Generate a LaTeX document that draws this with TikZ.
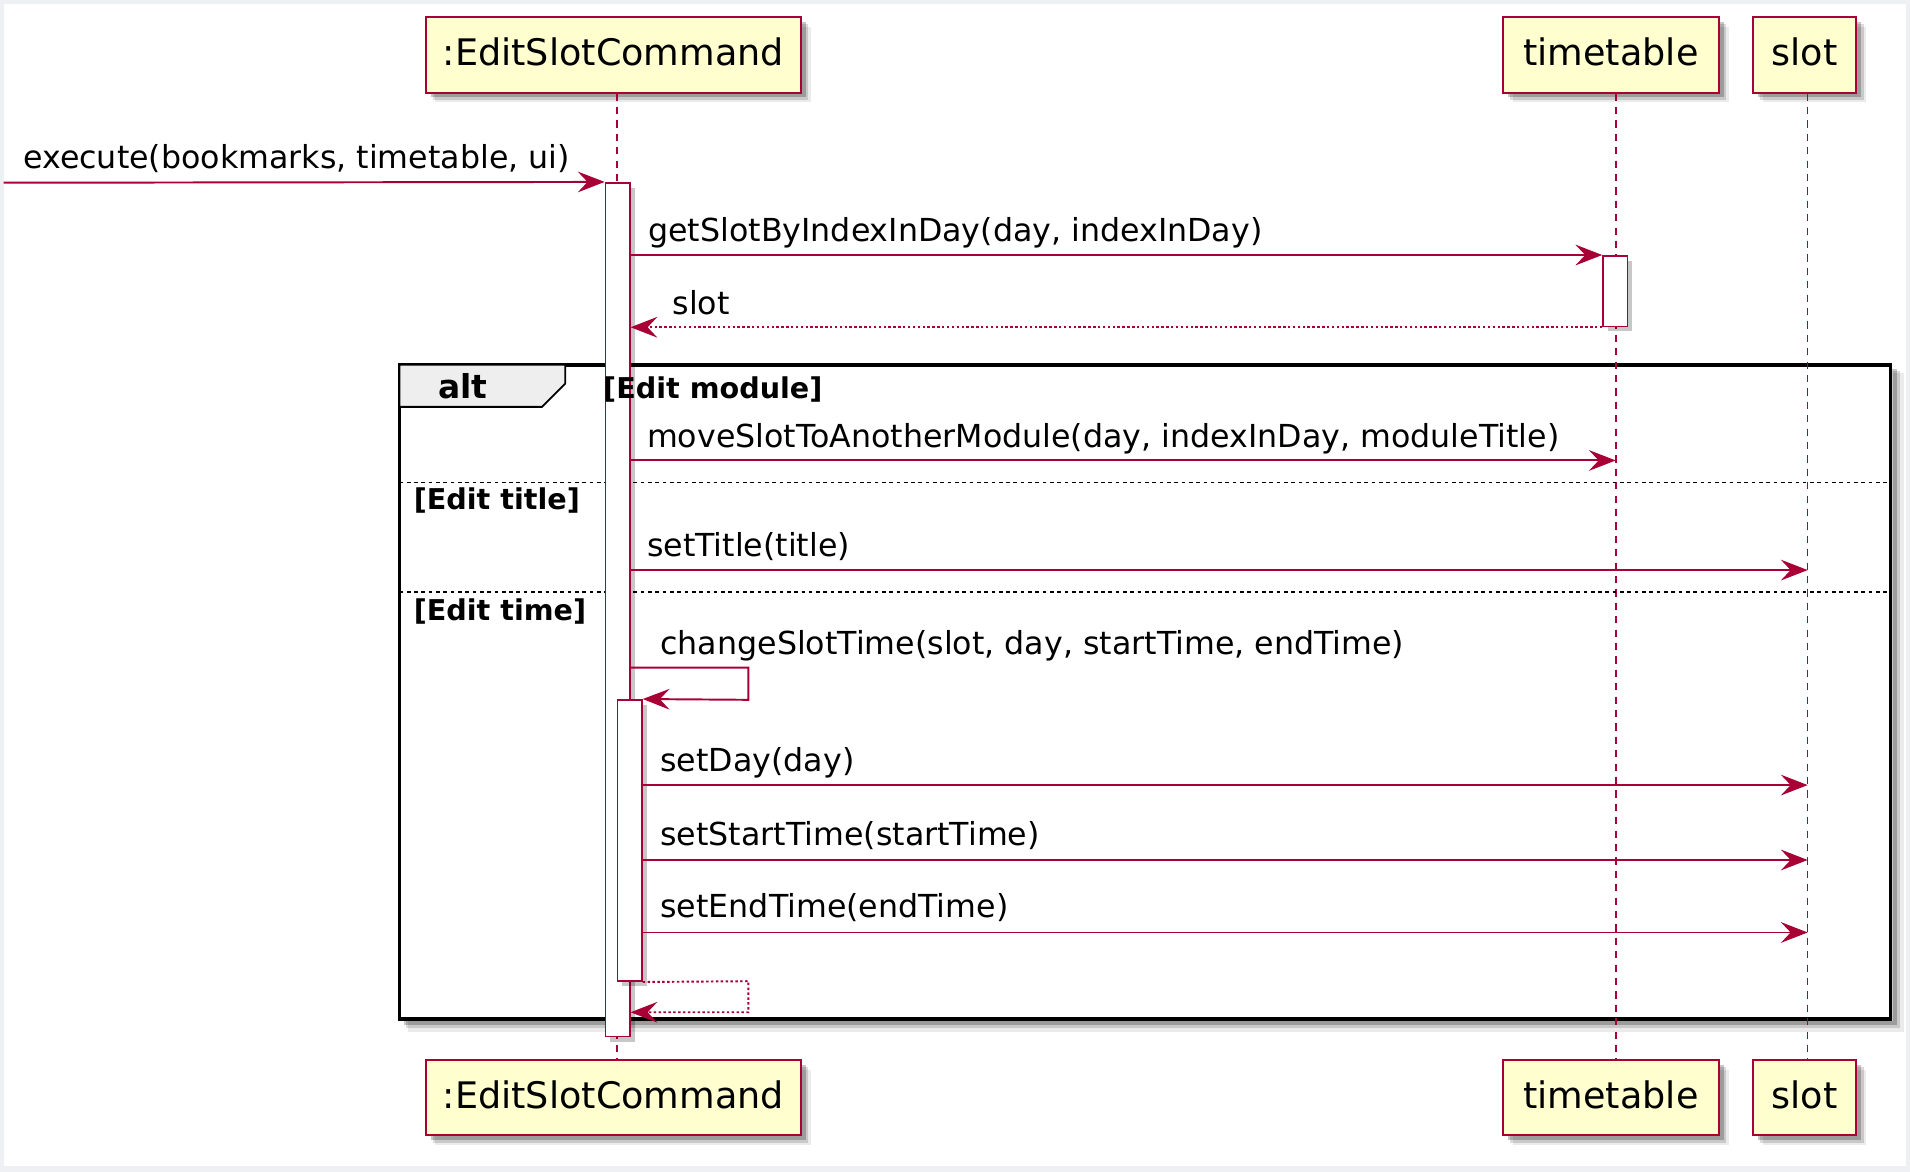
\documentclass[tikz,border=0pt]{standalone}
\usepackage{fontspec}
\setmainfont{DejaVu Sans}
\usetikzlibrary{arrows.meta,shadows}
\definecolor{pred}{HTML}{A80036}
\definecolor{pbox}{HTML}{FEFECE}
\definecolor{pbg}{HTML}{EEF0F3}
\definecolor{ptab}{HTML}{EEEEEE}
\newcommand\partfont{\fontsize{30}{36}\selectfont}
\newcommand\msgfont{\fontsize{26}{31}\selectfont}
\newcommand\grdfont{\fontsize{23.5}{28}\selectfont\bfseries}
\newcommand\altfont{\fontsize{27}{32}\selectfont\bfseries}
\tikzset{
  shad/.style={drop shadow={shadow xshift=8pt, shadow yshift=-8pt, opacity=0.08, fill=black},
               drop shadow={shadow xshift=6pt, shadow yshift=-6pt, opacity=0.14, fill=black},
               drop shadow={shadow xshift=4pt, shadow yshift=-4pt, opacity=0.22, fill=black}},
  partbox/.style={draw=pred, line width=1.6pt, fill=pbox, minimum height=62pt, inner sep=0pt,
    font=\partfont, text height=22pt, text depth=4pt, shad},
  lifeline/.style={draw=pred, line width=1.3pt, dash pattern=on 6pt off 5pt},
  msg/.style={draw=pred, line width=1.6pt, -{Stealth[length=22pt,width=17pt,inset=8pt]}},
  retmsg/.style={msg, dash pattern=on 2pt off 2pt},
  actbar/.style={draw=pred, fill=white, line width=1.3pt, minimum width=20pt, inner sep=0pt,
    drop shadow={shadow xshift=4pt, shadow yshift=-4pt, opacity=0.22, fill=black}},
  msglabel/.style={anchor=base west, font=\msgfont, inner sep=0pt},
  grdlabel/.style={anchor=base west, font=\grdfont, inner sep=0pt},
  sepline/.style={draw=black, line width=1.2pt, dash pattern=on 3pt off 3pt},
}
\begin{document}
\begin{tikzpicture}[x=1pt,y=-1pt]
\useasboundingbox (0,0) rectangle (1568,962);
\fill[pbg] (0,0) rectangle (1568,962);
\fill[white] (3,3.5) rectangle (1565,957);

% participants
\node[partbox, minimum width=308pt] (escTop) at (503.5,45) {:EditSlotCommand};
\node[partbox, minimum width=177pt] (ttTop) at (1322.5,45) {timetable};
\node[partbox, minimum width=85pt] (slTop) at (1481.5,45) {slot};
\node[partbox, minimum width=308pt] (escBot) at (503.5,901) {:EditSlotCommand};
\node[partbox, minimum width=177pt] (ttBot) at (1322.5,901) {timetable};
\node[partbox, minimum width=85pt] (slBot) at (1481.5,901) {slot};

\coordinate (L1) at (506.7,0);
\coordinate (L2) at (1326.4,0);
\coordinate (L3) at (1484,0);

% alt frame shadow and frame
\draw[black, opacity=0.08, line width=9pt] (1558.5,306) -- (1558.5,842.5) -- (335,842.5);
\draw[black, opacity=0.14, line width=6pt] (1557,304.5) -- (1557,841) -- (333.5,841);
\draw[black, opacity=0.22, line width=4pt] (1555.5,303) -- (1555.5,839.5) -- (332,839.5);
\draw[black, line width=3pt] (328,299.5) rectangle (1552,836.5);

% lifelines
\draw[lifeline] (escTop.south -| L1) -- (escBot.north -| L1);
\draw[lifeline] (ttTop.south -| L2) -- (ttBot.north -| L2);
\draw[lifeline] (slTop.south -| L3) -- (slBot.north -| L3);

% alt tab and separators
\filldraw[fill=ptab, draw=black, line width=1.5pt] (328,299.5) -- (464,299.5) -- (464,315) -- (445,334) -- (328,334) -- cycle;
\node[anchor=base west, font=\altfont, inner sep=0pt] (altlbl) at (359.5,327) {alt};
\draw[sepline] (328,396.3) -- (1552,396.3);
\draw[sepline] (328,486) -- (1552,486);

% activation bars
\node[actbar, minimum height=701pt] (act1) at (507,500.5) {};
\node[actbar, minimum height=58pt] (act2) at (1326,239) {};
\node[actbar, minimum height=231pt] (act3) at (517,690) {};

\node[grdlabel] (g1) at (495,327) {[Edit module]};
\node[grdlabel] (g2) at (339.5,418.5) {[Edit title]};
\node[grdlabel] (g3) at (339.5,509.5) {[Edit time]};

% messages
\coordinate (src) at (3,150);
\draw[msg] (src) -- (act1.north west);
\node[msglabel] (m0) at (19,138.5) {execute(bookmarks, timetable, ui)};

\draw[msg] (act1.east |- act2.north) -- (act2.north west);
\node[msglabel] (m1) at (532,198.5) {getSlotByIndexInDay(day, indexInDay)};

\draw[retmsg] (act2.south west) -- (act1.east |- act2.south);
\node[msglabel] (m2) at (552,258) {slot};

\coordinate (y3) at (0,378);
\draw[msg] (act1.east |- y3) -- (L2 |- y3);
\node[msglabel] (m3) at (531,367) {moveSlotToAnotherModule(day, indexInDay, moduleTitle)};

\coordinate (y4) at (0,468);
\draw[msg] (act1.east |- y4) -- (L3 |- y4);
\node[msglabel] (m4) at (531,457) {setTitle(title)};

\coordinate (y5) at (0,548);
\coordinate (c5a) at (614.4,548);
\coordinate (c5b) at (614.4,574.5);
\draw[msg] (act1.east |- y5) -- (c5a) -- (c5b) -- (act3.north east);
\node[msglabel] (m5) at (542,537.5) {changeSlotTime(slot, day, startTime, endTime)};

\coordinate (y6) at (0,644.5);
\draw[msg] (act3.east |- y6) -- (L3 |- y6);
\node[msglabel] (m6) at (542,633.5) {setDay(day)};

\coordinate (y7) at (0,706);
\draw[msg] (act3.east |- y7) -- (L3 |- y7);
\node[msglabel] (m7) at (542,694.5) {setStartTime(startTime)};

\coordinate (y8) at (0,765.5);
\draw[msg] (act3.east |- y8) -- (L3 |- y8);
\node[msglabel] (m8) at (542,753) {setEndTime(endTime)};

\coordinate (c9a) at (614.4,805.5);
\coordinate (c9b) at (614.4,831);
\draw[retmsg] (act3.south east) -- (c9a) -- (c9b) -- (act1.east |- c9b);
\end{tikzpicture}
\end{document}
